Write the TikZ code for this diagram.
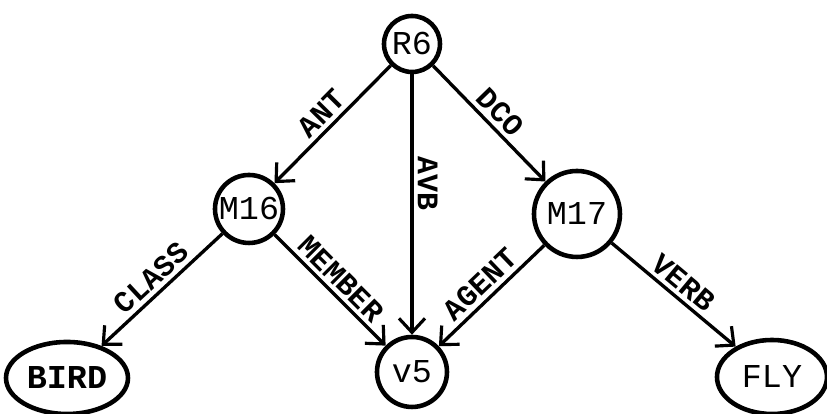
\documentclass[tikz,border=0pt]{standalone}
\usepackage{fontspec}
\setmonofont{Liberation Mono}
\usetikzlibrary{positioning,shapes.geometric,arrows.meta}

\tikzset{
  net/.style={circle, draw, line width=1.3pt, inner sep=0pt, font=\ttfamily\fontsize{9.5}{10}\selectfont},
  base/.style={ellipse, draw, line width=1.3pt, inner sep=0pt, font=\ttfamily\fontsize{9.5}{10}\selectfont},
  arc/.style={-{Straight Barb[length=1.4mm,width=2.6mm,line width=0.9pt]}, line width=0.95pt},
  arclabel/.style={sloped, above, inner sep=1.2pt, font=\ttfamily\bfseries\fontsize{8.5}{9}\selectfont}
}

\begin{document}
\begin{tikzpicture}[on grid]
    \useasboundingbox (0,0) rectangle (8.27,4.14);

    \node(R6)   [net, minimum size=0.56cm]                      at (4.12,3.70) {R6};
    \node(M16)  [net, minimum size=0.68cm, below left=1.65 and 1.63 of R6]  {M16};
    \node(M17)  [net, minimum size=0.86cm, below right=1.70 and 1.65 of R6] {\raisebox{-2pt}{M17}};
    \node(V5)   [net, minimum size=0.70cm, below=3.28 of R6]     {\raisebox{-3pt}{v5}};
    \node(Bird) [base, minimum width=1.22cm, minimum height=0.72cm, below left=1.69 and 1.82 of M16, font=\ttfamily\bfseries\fontsize{9.5}{10}\selectfont] {BIRD};
    \node(Fly)  [base, minimum width=1.10cm, minimum height=0.74cm, below right=1.63 and 1.95 of M17] {FLY};

    % rule R6: antecedent, consequent and bound variable
    \draw[arc](R6)   -- node[arclabel] {ANT}    (M16);
    \draw[arc](R6)   -- node[arclabel, pos=0.42] {AVB} (V5);
    \draw[arc](R6)   -- node[arclabel] {DCO}    (M17);

    \draw[arc](M16)  -- node[arclabel] {CLASS}  (Bird);
    \draw[arc](M16)  -- node[arclabel] {MEMBER} (V5);
    \draw[arc](M17)  -- node[arclabel] {AGENT}  (V5);
    \draw[arc](M17)  -- node[arclabel] {VERB}   (Fly);
  \end{tikzpicture}
\end{document}
